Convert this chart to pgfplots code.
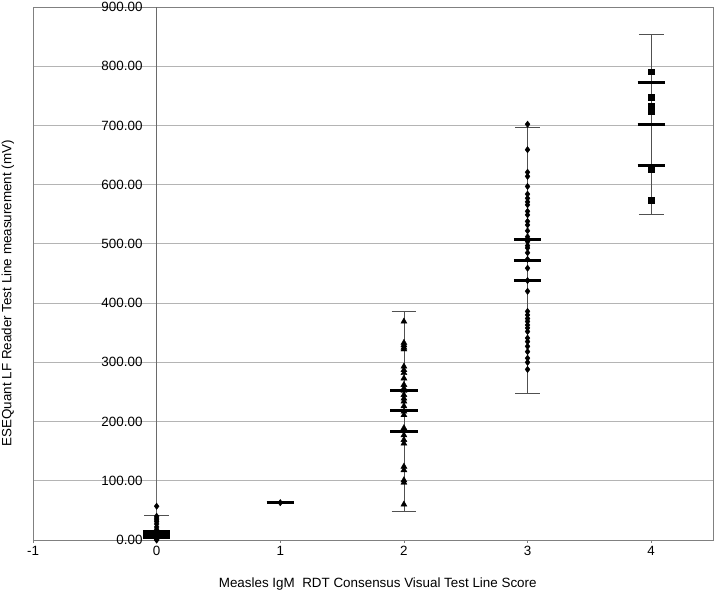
\documentclass[border=0pt]{standalone}
\usepackage{pgfplots}
\pgfplotsset{compat=1.18}
\usepackage{fontspec}
\setmainfont{Liberation Sans}
\newcommand\chartfont{\fontsize{13.4}{16}\selectfont}
\definecolor{gridc}{HTML}{B4B4B4}
\definecolor{framec}{HTML}{808080}
\definecolor{whisk}{HTML}{505050}
\begin{document}
\begin{tikzpicture}
\begin{axis}[
  scale only axis, width=680pt, height=533pt,
  xmin=-1, xmax=4.5, ymin=0, ymax=900,
  xtick={-1,0,1,2,3,4}, ytick={0,100,...,900},
  ymajorgrids, grid style={gridc, line width=0.8pt},
  axis line style={framec, line width=0.8pt},
  tick style={framec, line width=0.8pt},
  tick align=outside, major tick length=3pt,
  ytick style={draw=none},
  xtick pos=left,
  clip=false,
  /pgf/number format/assume math mode=true,
  tick label style={font=\chartfont, text=black},
  yticklabel={\pgfmathprintnumber[fixed,fixed zerofill,precision=2]{\tick}},
  yticklabel style={xshift=116pt},
  xlabel={Measles IgM\ \ RDT Consensus Visual Test Line Score},
  ylabel={ESEQuant LF Reader Test Line measurement (mV)},
  label style={font=\chartfont, inner sep=0pt},
  xlabel style={at={(axis description cs:0.507,0)}, anchor=base, yshift=-48pt},
  ylabel style={at={(axis description cs:-0.0368,0.463)}, anchor=center},
]
% y axis line at x=0
\addplot[color=whisk!85, line width=0.8pt] coordinates {(0,0) (0,900)};

% whiskers
\addplot[whisk, line width=0.8pt] coordinates {(0,0) (0,41)};
\addplot[whisk, line width=0.8pt] coordinates {(-0.1,41) (0.1,41)};
\addplot[whisk, line width=0.8pt] coordinates {(2,48) (2,386)};
\addplot[whisk, line width=0.8pt] coordinates {(1.9,48) (2.1,48)};
\addplot[whisk, line width=0.8pt] coordinates {(1.9,386) (2.1,386)};
\addplot[whisk, line width=0.8pt] coordinates {(3,247) (3,696)};
\addplot[whisk, line width=0.8pt] coordinates {(2.9,247) (3.1,247)};
\addplot[whisk, line width=0.8pt] coordinates {(2.9,696) (3.1,696)};
\addplot[whisk, line width=0.8pt] coordinates {(4,549) (4,854)};
\addplot[whisk, line width=0.8pt] coordinates {(3.9,549) (4.1,549)};
\addplot[whisk, line width=0.8pt] coordinates {(3.9,854) (4.1,854)};

% points
\addplot[only marks, mark=diamond*, mark size=3.2pt, mark options={fill=black, draw=black}] coordinates {
 (0,57) (0,40) (0,37) (0,34) (0,31) (0,27) (0,22) (0,18) (0,15) (0,13) (0,12) (0,11)
 (0,10) (0,9) (0,8) (0,7) (0,6) (0,5) (0,4) (0,3) (0,2) (0,1) (0,0)};
\addplot[only marks, mark=diamond*, mark size=3.2pt, mark options={fill=black, draw=black}] coordinates {(1,63)};
\addplot[only marks, mark=triangle*, mark size=3.5pt, mark options={fill=black, draw=black}] coordinates {
 (2,369) (2,333) (2,329) (2,325) (2,322) (2,293) (2,287) (2,282) (2,273) (2,262) (2,256)
 (2,252) (2,245) (2,239) (2,234) (2,226) (2,217) (2,211) (2,189) (2,184) (2,177) (2,169)
 (2,163) (2,124) (2,118) (2,101) (2,97) (2,60)};
\addplot[only marks, mark=diamond*, mark size=3.2pt, mark options={fill=black, draw=black}] coordinates {
 (3,702) (3,659) (3,621) (3,614) (3,597) (3,584) (3,577) (3,571) (3,566) (3,555) (3,549)
 (3,538) (3,532) (3,522) (3,512) (3,507) (3,504) (3,497) (3,493) (3,485) (3,474) (3,459)
 (3,438) (3,420) (3,386) (3,380) (3,374) (3,369) (3,363) (3,358) (3,352) (3,341) (3,335)
 (3,327) (3,318) (3,307) (3,300) (3,288)};
\addplot[only marks, mark=square*, mark size=2.8pt, mark options={fill=black, draw=black}] coordinates {
 (4,791) (4,748) (4,733) (4,724) (4,625) (4,574)};

% thick mean / SD bars
\addplot[black, line width=3pt] coordinates {(-0.11,15) (0.11,15)};
\addplot[black, line width=3pt] coordinates {(-0.11,10) (0.11,10)};
\addplot[black, line width=3pt] coordinates {(-0.11,5) (0.11,5)};
\addplot[black, line width=3pt] coordinates {(0.89,63) (1.11,63)};
\addplot[black, line width=3pt] coordinates {(1.89,253) (2.11,253)};
\addplot[black, line width=3pt] coordinates {(1.89,218) (2.11,218)};
\addplot[black, line width=3pt] coordinates {(1.89,183) (2.11,183)};
\addplot[black, line width=3pt] coordinates {(2.89,507) (3.11,507)};
\addplot[black, line width=3pt] coordinates {(2.89,472) (3.11,472)};
\addplot[black, line width=3pt] coordinates {(2.89,438) (3.11,438)};
\addplot[black, line width=3pt] coordinates {(3.89,772) (4.11,772)};
\addplot[black, line width=3pt] coordinates {(3.89,702) (4.11,702)};
\addplot[black, line width=3pt] coordinates {(3.89,632) (4.11,632)};

\coordinate (bl) at (rel axis cs:0,0);
\coordinate (tr) at (rel axis cs:1,1);
\end{axis}
\pgfresetboundingbox
\path (bl) ++(-33pt,-53pt) rectangle ([shift={(2pt,7pt)}]tr);
\end{tikzpicture}
\end{document}
